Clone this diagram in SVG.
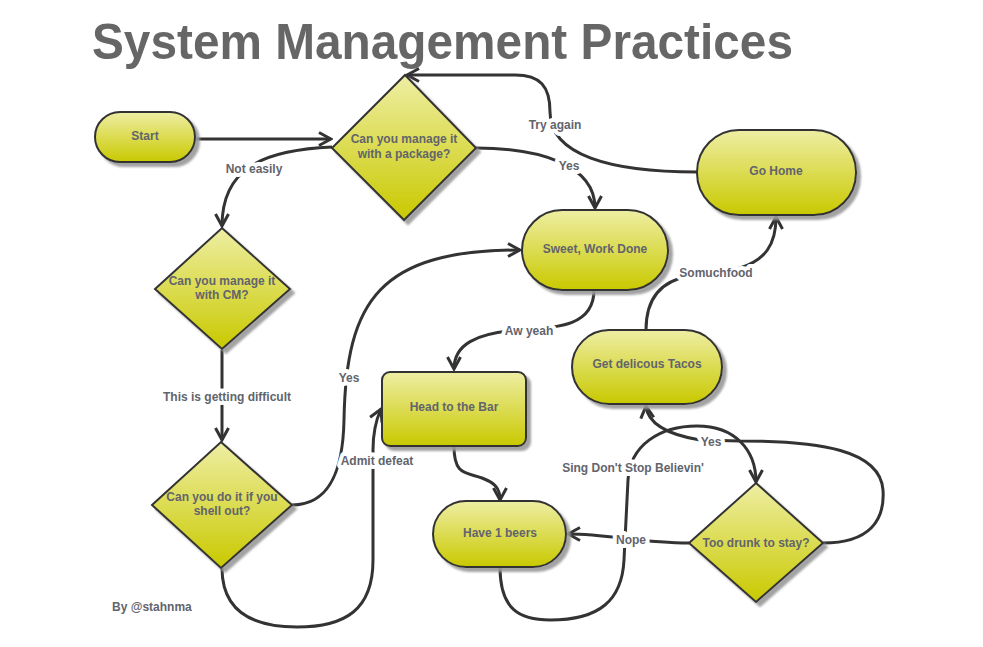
<svg xmlns="http://www.w3.org/2000/svg" width="983" height="647" viewBox="0 0 983 647">
<style>
.node{fill:url(#g);stroke:#333;stroke-width:2;filter:url(#sh)}
.nt{font-family:"Liberation Sans",Arial,sans-serif;font-weight:bold;font-size:12px;fill:#62646c;text-anchor:middle}
.lb{font-family:"Liberation Sans",Arial,sans-serif;font-weight:bold;font-size:12px;fill:#62646c;text-anchor:middle;stroke:#fff;stroke-width:8px;stroke-linejoin:round;paint-order:stroke}
.c{fill:none;stroke:#333;stroke-width:3;marker-end:url(#ah)}
.cn{fill:none;stroke:#333;stroke-width:3}
</style>
<defs>
<linearGradient id="g" x1="0" y1="0" x2="0" y2="1">
<stop offset="0" stop-color="#eeeea4"/>
<stop offset="1" stop-color="#c9c900"/>
</linearGradient>
<filter id="sh" x="-10%" y="-10%" width="130%" height="130%">
<feDropShadow dx="4" dy="4" stdDeviation="0.8" flood-color="#999" flood-opacity="0.9"/>
</filter>
<marker id="ah" viewBox="0 0 16 16" refX="14" refY="8" markerWidth="16" markerHeight="16" markerUnits="userSpaceOnUse" orient="auto">
<path d="M2,1.5 L14,8 L2,14.5" fill="none" stroke="#333" stroke-width="3" stroke-linejoin="miter"/>
</marker>
</defs>
<rect width="983" height="647" fill="#fff"/>
<text x="92" y="59" font-family="Liberation Sans,Arial,sans-serif" font-weight="bold" font-size="50" fill="#666" textLength="701" lengthAdjust="spacingAndGlyphs">System Management Practices</text>

<g id="connectors">
<path class="c" d="M195,139 L331,139"/>
<path class="c" d="M332,147 C260,150 222,170 222,226"/>
<path class="c" d="M476,148 C540,148 595,165 595,208"/>
<path class="c" d="M697,172 C610,172 550,155 550,112 C550,86 540,75 515,75 L407,75"/>
<path class="c" d="M222,350 L222,440"/>
<path class="c" d="M292,505 C330,505 343,470 344,420 C346,300 380,250 520,250"/>
<path class="c" d="M222,568 C222,610 250,627 297,627 C345,627 373,610 373,560 L373,450 C373,432 376,420 381,409"/>
<path class="c" d="M594,290 C594,325 560,328 520,330 C475,333 454,345 454,369"/>
<path class="c" d="M454,446 C454,475 465,472 482,478 C495,483 500,488 500,500"/>
<path class="c" d="M689,543 C640,543 610,534 568,534"/>
<path class="c" d="M500,567 C500,610 520,620 550,620 C600,620 622,600 624,560 L628,480 C630,445 660,426 697,426 C735,426 756,450 756,482"/>
<path class="c" d="M823,543 C870,543 885,520 883,490 C880,450 820,441 740,441 L700,440 C670,435 648,425 646,406"/>
<path class="c" d="M646,330 C646,295 665,280 690,276 L740,268 C765,260 776,245 776,217"/>
<text class="lb" x="254" y="173">Not easily</text>
<text class="lb" x="569" y="170">Yes</text>
<text class="lb" x="555" y="129">Try again</text>
<text class="lb" x="227" y="401">This is getting difficult</text>
<text class="lb" x="349" y="382">Yes</text>
<text class="lb" x="377" y="465">Admit defeat</text>
<text class="lb" x="529" y="335">Aw yeah</text>
<text class="lb" x="631" y="544">Nope</text>
<text class="lb" x="633" y="472">Sing Don't Stop Believin'</text>
<text class="lb" x="711" y="446">Yes</text>
<text class="lb" x="716" y="277">Somuchfood</text>
</g>

<g id="start">
<rect class="node" x="95" y="112" width="100" height="50" rx="25"/>
<text class="nt" x="145" y="140">Start</text>
</g>
<g id="q-package">
<polygon class="node" points="405,75 476,148 404,220 332,148"/>
<text class="nt" x="404" y="143">Can you manage it</text>
<text class="nt" x="404" y="158">with a package?</text>
</g>
<g id="go-home">
<rect class="node" x="697" y="130" width="159" height="85" rx="42"/>
<text class="nt" x="776" y="175">Go Home</text>
</g>
<g id="sweet">
<rect class="node" x="522" y="210" width="146" height="80" rx="40"/>
<text class="nt" x="595" y="253">Sweet, Work Done</text>
</g>
<g id="q-cm">
<polygon class="node" points="222,228 290,289 222,349 155,289"/>
<text class="nt" x="222" y="285">Can you manage it</text>
<text class="nt" x="222" y="299">with CM?</text>
</g>
<g id="bar">
<rect class="node" x="382" y="372" width="144" height="74" rx="8"/>
<text class="nt" x="454" y="411">Head to the Bar</text>
</g>
<g id="tacos">
<rect class="node" x="572" y="330" width="150" height="74" rx="37"/>
<text class="nt" x="647" y="368">Get delicous Tacos</text>
</g>
<g id="q-shell">
<polygon class="node" points="221,442 292,505 221,568 152,505"/>
<text class="nt" x="222" y="501">Can you do it if you</text>
<text class="nt" x="222" y="515">shell out?</text>
</g>
<g id="beers">
<rect class="node" x="433" y="501" width="133" height="66" rx="33"/>
<text class="nt" x="500" y="537">Have 1 beers</text>
</g>
<g id="q-drunk">
<polygon class="node" points="756,483 823,543 756,602 689,543"/>
<text class="nt" x="756" y="547">Too drunk to stay?</text>
</g>
<text class="nt" x="112" y="611" style="text-anchor:start">By @stahnma</text>
</svg>
